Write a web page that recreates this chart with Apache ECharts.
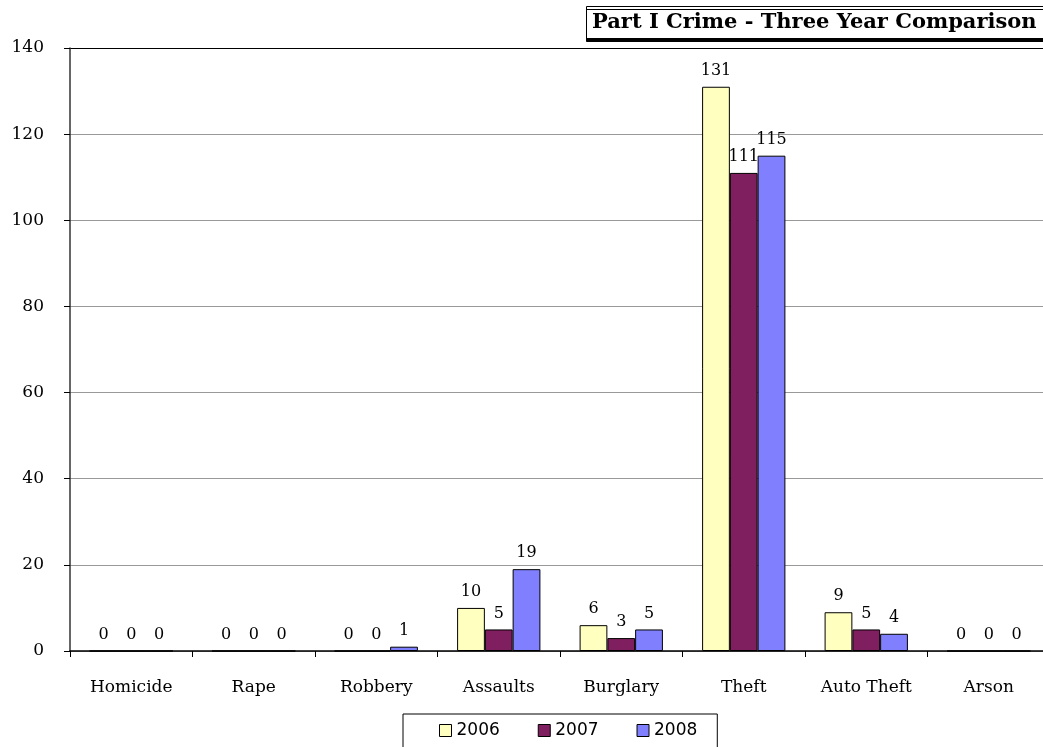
<!DOCTYPE html>
<html><head><meta charset="utf-8">
<script src="https://cdn.jsdelivr.net/npm/echarts@6/dist/echarts.min.js"></script>
<style>html,body{margin:0;padding:0;background:#fff}#c{width:1043px;height:747px}</style>
</head><body><div id="c"></div>
<script>
const categories = ['Homicide','Rape','Robbery','Assaults','Burglary','Theft','Auto Theft','Arson'];
const years = ['2006','2007','2008'];
const v2006 = [0,0,0,10,6,131,9,0];
const v2007 = [0,0,0,5,3,111,5,0];
const v2008 = [0,0,1,19,5,115,4,0];
const yTicks = [0,20,40,60,80,100,120,140];
const colors = ['#FFFFC0','#7F1F5F','#8080FF'];
const serif = '"DejaVu Serif","Liberation Serif",serif';
const chart = echarts.init(document.getElementById('c'));
const mk = (name, data, i) => ({
  name, type:'bar', data, barGap:'0%', barCategoryGap:'32%',
  itemStyle:{color:colors[i], borderColor:'#000', borderWidth:1},
  label:{show:true, position:'top', distance:8, color:'#000', fontFamily:serif, fontSize:16}
});
chart.setOption({
  animation:false,
  title:{text:'Part I Crime - Three Year Comparison', left:586, top:6,
    textStyle:{fontFamily:serif, fontWeight:'bold', fontSize:21, color:'#000'},
    padding:[6,40,6,6], borderColor:'#000', borderWidth:1, backgroundColor:'#fff',
    shadowColor:'#000', shadowOffsetX:0, shadowOffsetY:3, shadowBlur:0},
  legend:{bottom:-8, left:403, data:years, itemWidth:12, itemHeight:12, itemGap:38,
    icon:'rect', borderColor:'#000', borderWidth:1, padding:[8,20,16,36],
    textStyle:{fontFamily:'"DejaVu Sans",sans-serif', fontSize:17, color:'#000'},
    itemStyle:{borderColor:'#000', borderWidth:1}},
  grid:{left:70, width:980, top:48, bottom:96, outerBoundsMode:'none', containLabel:false},
  xAxis:{type:'category', data:categories,
    axisLine:{lineStyle:{color:'#000', width:1.5}},
    axisTick:{show:true, alignWithLabel:false, length:6, lineStyle:{color:'#000'}},
    axisLabel:{fontFamily:serif, fontSize:17, color:'#000', margin:28}},
  yAxis:{type:'value', min:0, max:140, interval:20,
    axisLine:{show:true, lineStyle:{color:'#333', width:1.5}},
    axisTick:{show:true, length:6, lineStyle:{color:'#000'}},
    axisLabel:{fontFamily:serif, fontSize:17, color:'#000', margin:26,
      formatter:(v)=> yTicks.includes(v)? String(v):''},
    splitLine:{lineStyle:{color:['#999','#999','#999','#999','#999','#999','#999','#000'], width:1}}},
  series:[mk(years[0], v2006, 0), mk(years[1], v2007, 1), mk(years[2], v2008, 2)]
});
</script></body></html>
